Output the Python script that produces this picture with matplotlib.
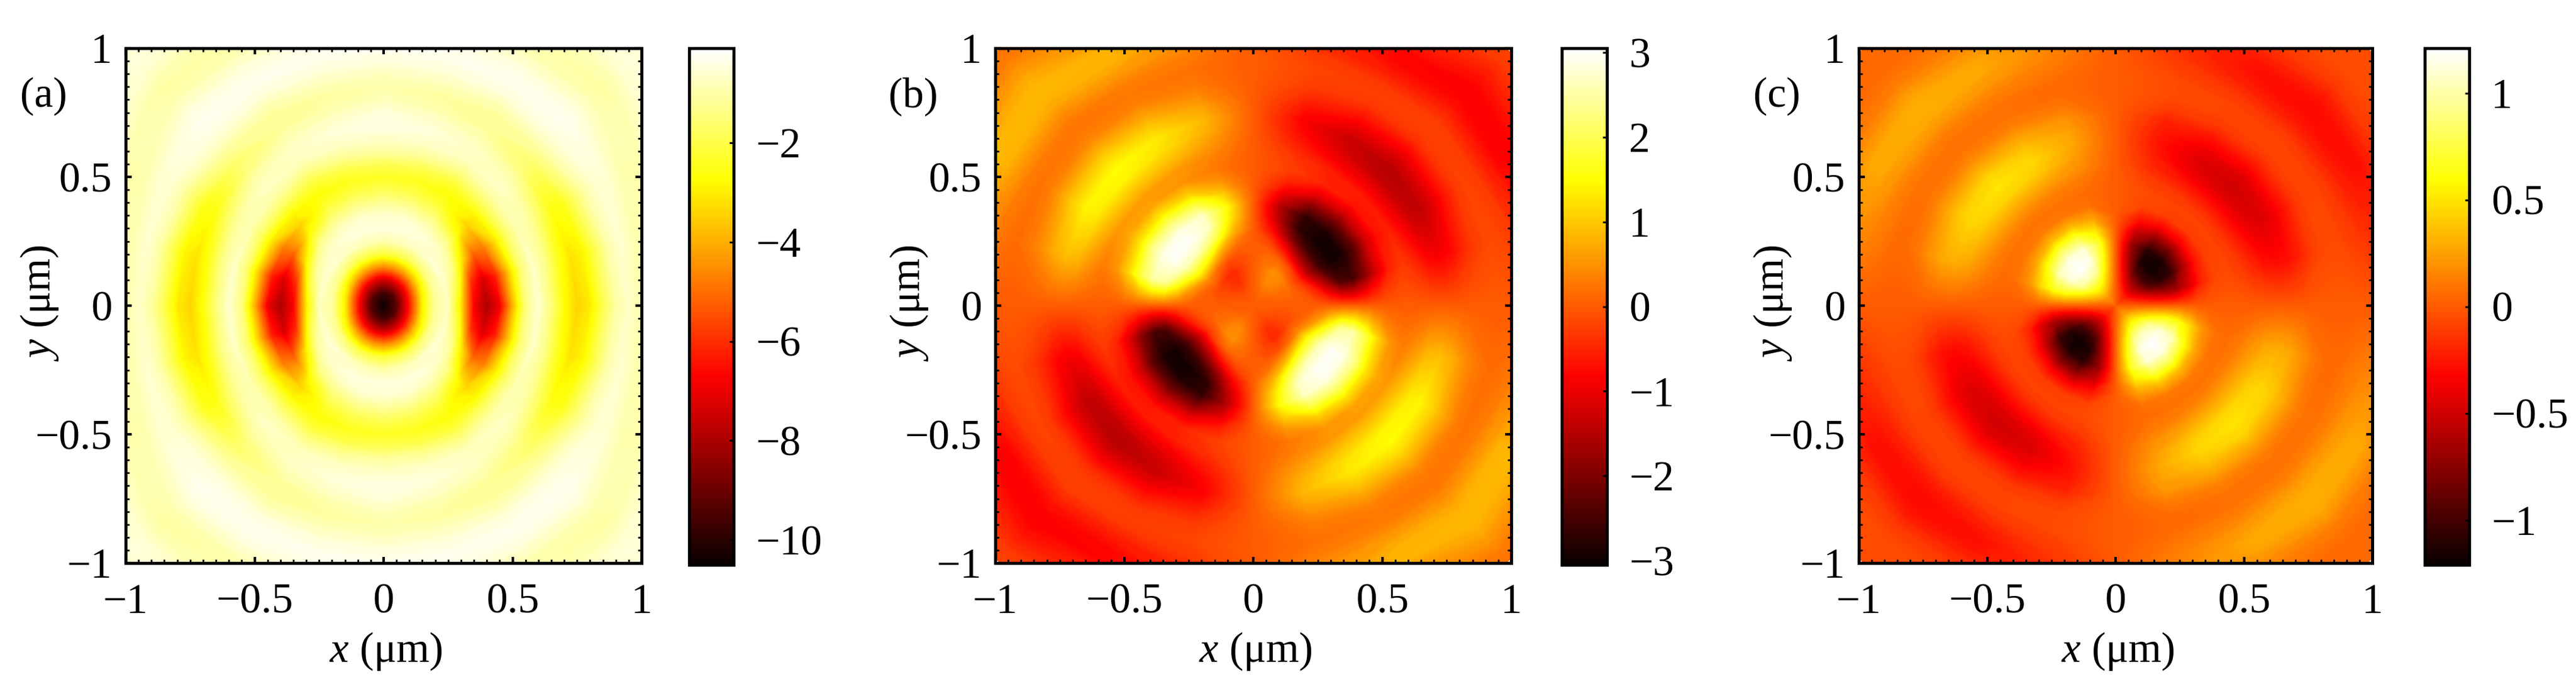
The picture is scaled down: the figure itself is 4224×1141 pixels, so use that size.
import numpy as np
from matplotlib import pyplot as plt
from matplotlib.cm import ScalarMappable
from matplotlib.colors import Normalize
from matplotlib.ticker import MultipleLocator

plt.rcParams['font.family'] = ['Liberation Serif', 'DejaVu Serif']
plt.rcParams['mathtext.fontset'] = 'custom'
plt.rcParams['mathtext.rm'] = 'Liberation Serif'
plt.rcParams['mathtext.it'] = 'Liberation Serif:italic'

W, H = 4224, 1141

# values read along rays of the upper right quadrant, one row per angle
angles = [0, 15, 30, 45, 60, 75, 90]
radii = [i * 0.05 for i in range(29)]

field_a = [
    [-10.5, -9.3, -6.4, -3.0, -1.1, -0.8, -3.2, -6.8, -8.0, -7.0, -4.0, -1.5, -0.6, -1.5, -2.7,
     -3.4, -3.1, -2.0, -1.1, -0.7, -1.0, -1.2, -1.2, -1.0, -0.8, -0.7, -0.7, -0.8, -0.9],
    [-10.5, -9.3, -6.5, -3.2, -1.2, -0.7, -2.3, -6.0, -7.3, -6.2, -3.7, -1.6, -0.7, -1.4, -2.5,
     -3.2, -2.9, -1.9, -1.0, -0.6, -0.9, -1.0, -1.0, -0.9, -0.8, -0.7, -0.7, -0.8, -0.9],
    [-10.5, -9.4, -6.7, -3.6, -1.4, -0.6, -1.2, -3.2, -5.2, -4.8, -3.2, -1.7, -0.9, -1.1, -1.8,
     -2.6, -2.5, -1.7, -1.0, -0.6, -0.6, -0.9, -1.0, -0.9, -0.7, -0.6, -0.6, -0.7, -0.8],
    [-10.5, -9.5, -7.0, -4.0, -1.7, -0.6, -0.7, -1.4, -2.7, -3.4, -2.9, -1.8, -1.0, -0.7, -1.0,
     -1.5, -1.6, -1.2, -0.7, -0.4, -0.3, -0.4, -0.7, -1.0, -1.1, -0.9, -0.6, -0.5, -0.6],
    [-10.5, -9.5, -7.2, -4.3, -2.0, -0.8, -0.5, -0.9, -1.6, -2.3, -2.7, -2.2, -1.4, -0.8, -0.7,
     -0.9, -1.2, -1.2, -0.9, -0.5, -0.3, -0.4, -0.7, -1.0, -1.0, -0.9, -0.8, -0.7, -0.7],
    [-10.5, -9.6, -7.4, -4.5, -2.1, -0.9, -0.5, -0.6, -1.3, -2.0, -2.5, -2.0, -1.2, -0.7, -0.5,
     -0.7, -1.0, -1.1, -0.8, -0.5, -0.3, -0.4, -0.6, -0.8, -0.8, -0.8, -0.7, -0.7, -0.7],
    [-10.5, -9.6, -7.5, -4.6, -2.2, -1.0, -0.5, -0.6, -1.2, -1.9, -2.4, -1.9, -1.1, -0.7, -0.4,
     -0.5, -0.8, -1.0, -0.8, -0.5, -0.3, -0.4, -0.6, -0.7, -0.7, -0.7, -0.7, -0.7, -0.7],
]

field_b = [
    [0.0] * 29,
    [0.0, 0.0, 0.1, 0.1, -0.1, -0.6, -1.5, -2.4, -2.5, -1.9, -1.1, -0.5, -0.3, -0.5, -0.8,
     -0.9, -0.75, -0.45, -0.25, -0.15, -0.2, -0.3, -0.3, -0.3, -0.25, -0.2, -0.2, -0.2, -0.2],
    [0.0, 0.05, 0.2, 0.2, -0.4, -1.6, -2.6, -3.0, -2.9, -2.3, -1.3, -0.7, -0.55, -0.9, -1.3,
     -1.4, -1.1, -0.7, -0.35, -0.2, -0.3, -0.55, -0.8, -0.85, -0.75, -0.55, -0.4, -0.3, -0.2],
    [0.0, 0.1, 0.35, 0.4, -0.2, -1.5, -2.6, -3.0, -2.9, -2.2, -1.3, -0.65, -0.6, -1.0, -1.4,
     -1.5, -1.2, -0.8, -0.4, -0.25, -0.25, -0.45, -0.7, -0.85, -0.85, -0.7, -0.5, -0.3, -0.2],
    [0.0, 0.1, 0.4, 0.5, 0.1, -0.8, -2.0, -2.7, -2.7, -1.9, -1.0, -0.5, -0.55, -0.9, -1.2,
     -1.3, -1.0, -0.65, -0.35, -0.25, -0.35, -0.6, -0.8, -0.8, -0.55, -0.4, -0.3, -0.2, -0.2],
    [0.0, 0.05, 0.2, 0.25, 0.15, -0.2, -0.8, -1.3, -1.5, -1.0, -0.5, -0.25, -0.35, -0.55, -0.75,
     -0.85, -0.65, -0.4, -0.25, -0.2, -0.3, -0.45, -0.45, -0.35, -0.25, -0.2, -0.2, -0.2, -0.2],
    [0.0] * 29,
]

field_c = [
    [0.0] * 29,
    [0.0, -0.1, -0.3, -0.5, -0.65, -0.65, -0.45, -0.2, -0.08, -0.06, -0.1, -0.18, -0.26, -0.3, -0.28,
     -0.2, -0.1, -0.06, -0.06, -0.1, -0.14, -0.16, -0.16, -0.12, -0.08, -0.05, -0.05, -0.05, -0.05],
    [0.0, -0.2, -0.55, -0.95, -1.12, -1.05, -0.65, -0.28, -0.1, -0.08, -0.15, -0.28, -0.4, -0.45, -0.4,
     -0.28, -0.15, -0.08, -0.08, -0.14, -0.22, -0.28, -0.28, -0.2, -0.12, -0.08, -0.05, -0.05, -0.05],
    [0.0, -0.25, -0.65, -1.05, -1.21, -1.15, -0.8, -0.35, -0.12, -0.08, -0.16, -0.3, -0.45, -0.5, -0.45,
     -0.3, -0.16, -0.08, -0.08, -0.14, -0.24, -0.3, -0.3, -0.24, -0.14, -0.08, -0.05, -0.05, -0.05],
    [0.0, -0.2, -0.55, -0.95, -1.15, -1.1, -0.75, -0.35, -0.1, -0.08, -0.14, -0.27, -0.4, -0.45, -0.38,
     -0.27, -0.14, -0.08, -0.08, -0.14, -0.22, -0.28, -0.26, -0.18, -0.12, -0.08, -0.05, -0.05, -0.05],
    [0.0, -0.1, -0.3, -0.5, -0.65, -0.7, -0.5, -0.25, -0.08, -0.06, -0.1, -0.18, -0.23, -0.27, -0.25,
     -0.2, -0.1, -0.06, -0.06, -0.1, -0.14, -0.16, -0.16, -0.12, -0.08, -0.05, -0.05, -0.05, -0.05],
    [0.0] * 29,
]

panel_names = ['(a)', '(b)', '(c)']
color_ranges = [(-10.5, -0.1), (-3.05, 3.05), (-1.21, 1.21)]
cbar_ticks = [[-10, -8, -6, -4, -2], [-3, -2, -1, 0, 1, 2, 3], [-1, -0.5, 0, 0.5, 1]]
axis_ticks = [-1, -0.5, 0, 0.5, 1]
# does the sign flip from one quadrant to the next
odd_field = [False, True, True]
fields = [field_a, field_b, field_c]

# pixel boxes: left, right of the map, left, right of the colorbar
boxes = [(206, 1052, 1130, 1203), (1632, 2478, 2561, 2635), (3048, 3890, 3976, 4049)]
top, bottom = 79, 923


def fmt(v):
    return ('%g' % v).replace('-', '\u2212')


def px_axes(fig, left, right, top, bottom):
    return fig.add_axes([left / W, 1 - bottom / H, (right - left) / W, (bottom - top) / H])


fig = plt.figure(figsize=(W / 100, H / 100), dpi=100)

for i in range(3):
    l, r, cl, cr = boxes[i]
    vmin, vmax = color_ranges[i]
    ax = px_axes(fig, l, r, top, bottom)

    th = np.radians(angles)
    rr, tt = np.meshgrid(radii, th)
    X = rr * np.cos(tt)
    Y = rr * np.sin(tt)
    Z = np.array(fields[i])
    levels = np.linspace(vmin, vmax, 300)
    for sx in (1, -1):
        for sy in (1, -1):
            sign = sx * sy if odd_field[i] else 1
            ax.contourf(sx * X, sy * Y, sign * Z, levels=levels, cmap='hot', extend='both')

    ax.set_xlim(-1, 1)
    ax.set_ylim(-1, 1)
    ax.set_xticks(axis_ticks, [fmt(v) for v in axis_ticks])
    ax.set_yticks(axis_ticks, [fmt(v) for v in axis_ticks])
    ax.xaxis.set_minor_locator(MultipleLocator(0.05))
    ax.yaxis.set_minor_locator(MultipleLocator(0.05))
    ax.tick_params(which='major', direction='in', top=True, right=True, length=7, width=3, labelsize=50)
    ax.tick_params(which='minor', direction='in', top=True, right=True, length=4, width=2)
    ax.tick_params(axis='x', which='major', pad=24)
    ax.tick_params(axis='y', which='major', pad=16)
    for s in ax.spines.values():
        s.set_linewidth(3.6)

    ax.set_xlabel(r'$x$ ($\mathrm{\mu}$m)', fontsize=50, va='center')
    ax.xaxis.set_label_coords(0.505, -0.172)
    ax.set_ylabel(r'$y$ ($\mathrm{\mu}$m)', fontsize=50, va='center')
    ax.yaxis.set_label_coords(-141 / (r - l), 0.505)

    fig.text((l - 135) / W, 1 - 158 / H, panel_names[i], fontsize=50, ha='center', va='center')

    cax = px_axes(fig, cl, cr, top, bottom + 3)
    cb = fig.colorbar(ScalarMappable(Normalize(vmin, vmax), 'hot'), cax=cax)
    cb.set_ticks(cbar_ticks[i], labels=[fmt(v) for v in cbar_ticks[i]])
    cb.ax.tick_params(direction='in', length=5, width=2.2, labelsize=50, pad=26)
    cb.outline.set_linewidth(3.6)

fig.savefig('out.png', dpi=100)
